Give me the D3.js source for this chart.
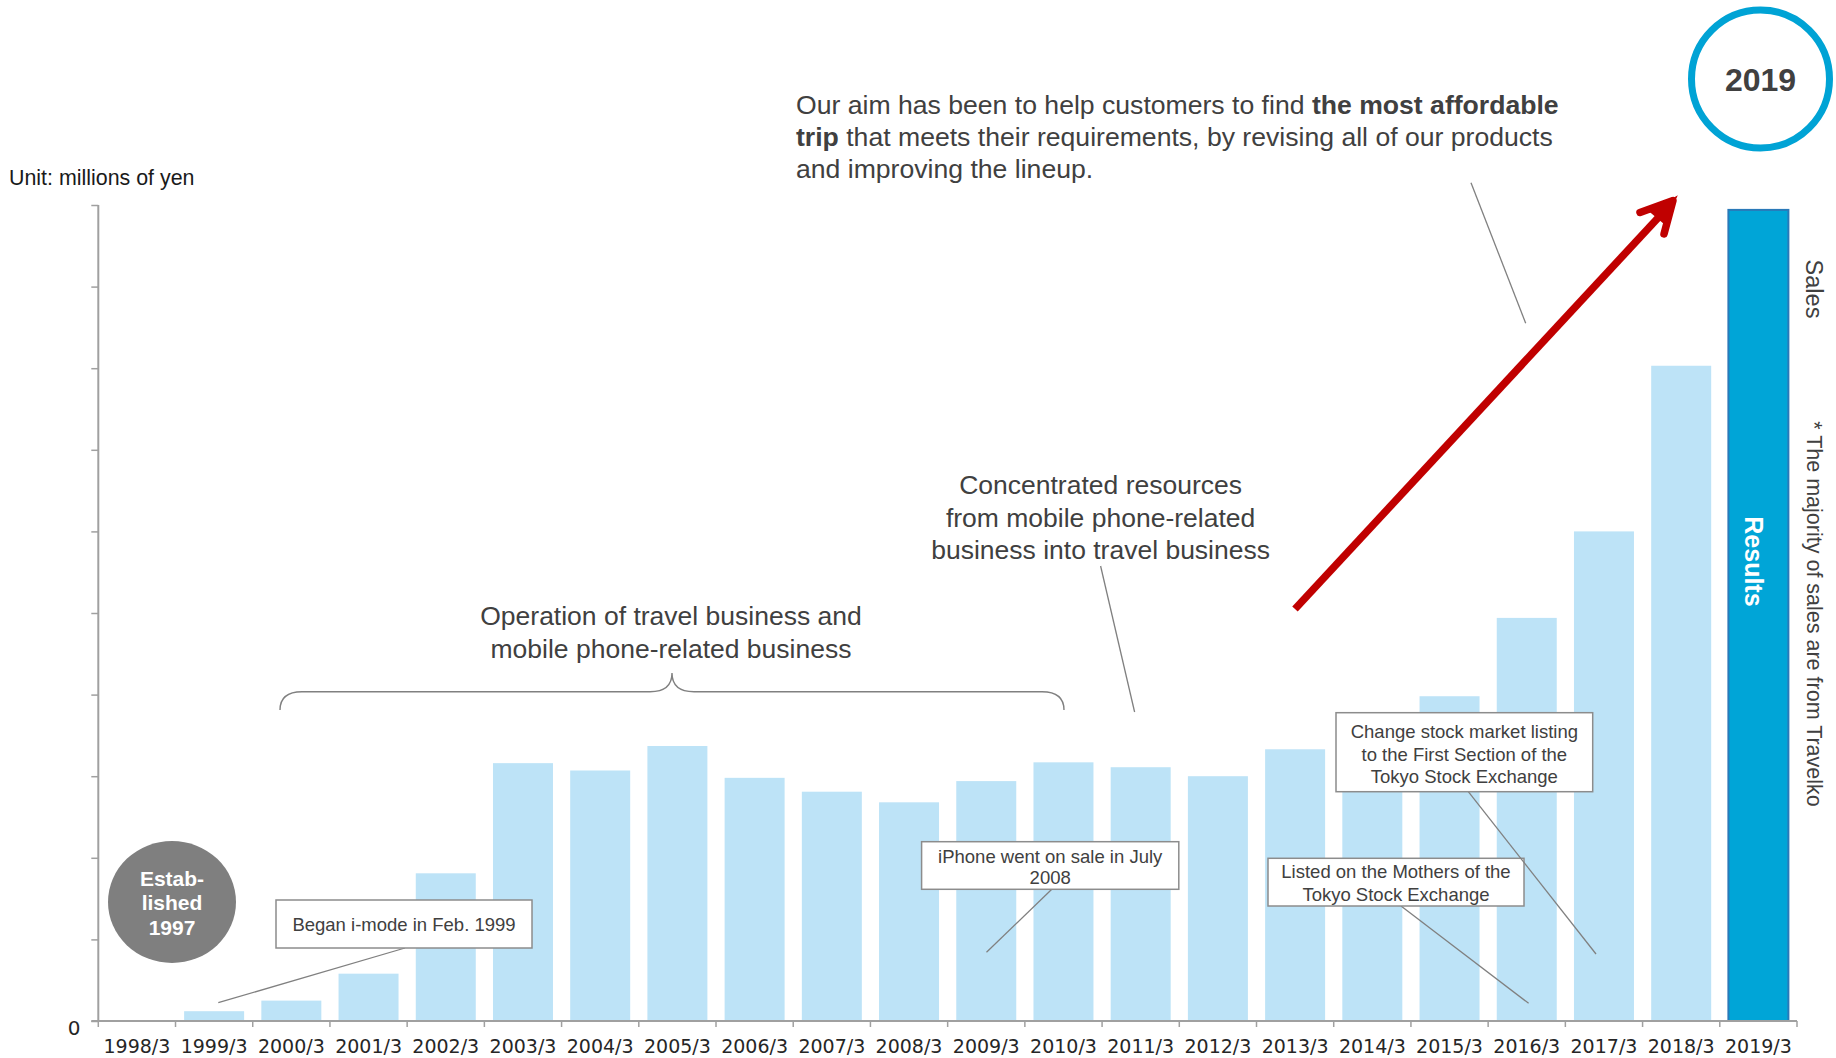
<!DOCTYPE html>
<html>
<head>
<meta charset="utf-8">
<script src="https://cdn.jsdelivr.net/npm/d3@7"></script>
<style>
  html, body { margin: 0; padding: 0; background: #ffffff; }
  svg { display: block; font-family: "Liberation Sans", Arial, Helvetica, sans-serif; }
</style>
</head>
<body>
<svg id="chart" width="1836" height="1058"></svg>
<script>
// Fiscal years (year/month of fiscal year end)
const categories = ["1998/3", "1999/3", "2000/3", "2001/3", "2002/3", "2003/3", "2004/3", "2005/3",
  "2006/3", "2007/3", "2008/3", "2009/3", "2010/3", "2011/3", "2012/3", "2013/3", "2014/3",
  "2015/3", "2016/3", "2017/3", "2018/3", "2019/3"];

// Sales per fiscal year, in axis grid steps
const sales = [0, 0.12, 0.25, 0.58, 1.81, 3.16, 3.07, 3.37, 2.98, 2.81, 2.68, 2.94, 3.17, 3.11,
  3.00, 3.33, 3.60, 3.98, 4.94, 6.00, 8.03, 9.94];

// Year shown as the latest results
const resultsYear = "2019/3";

// Y-axis grid steps; only zero carries a label
const yTicks = [0, 1, 2, 3, 4, 5, 6, 7, 8, 9, 10];
const yTickLabels = ["0"];

const data = categories.map((c, i) => ({ cat: c, value: sales[i] }));

const svg = d3.select("#chart");
const ink = "#404040";
const axisGrey = "#a0a0a0";
const leaderGrey = "#808080";

const x = d3.scaleBand()
  .domain(categories)
  .range([98.3, 1797])
  .paddingInner(0.223)
  .paddingOuter(0.1115);

const y = d3.scaleLinear()
  .domain([0, 10])
  .range([1021, 205]);

const cx = c => x(c) + x.bandwidth() / 2;

// ---- bars ----
svg.append("g").selectAll("rect")
  .data(data.filter(d => d.value > 0))
  .join("rect")
  .attr("x", d => x(d.cat))
  .attr("y", d => y(d.value))
  .attr("width", x.bandwidth())
  .attr("height", d => y(0) - y(d.value))
  .attr("fill", d => d.cat === resultsYear ? "#00a5d7" : "#bde3f7")
  .attr("stroke", d => d.cat === resultsYear ? "#2a79b8" : "none")
  .attr("stroke-width", 2);

// "Results" label inside the latest bar
{
  const d = data.find(e => e.cat === resultsYear);
  svg.append("text")
    .attr("transform", `translate(${cx(d.cat) - 4},${(y(d.value) + y(0)) / 2 - 54}) rotate(90)`)
    .attr("text-anchor", "middle")
    .attr("dominant-baseline", "central")
    .attr("fill", "#ffffff")
    .attr("font-weight", "bold")
    .attr("font-size", 25)
    .text("Results");
}

// ---- y axis ----
const yAxis = d3.axisLeft(y)
  .tickValues(yTicks)
  .tickSize(7)
  .tickFormat("");
const gy = svg.append("g")
  .attr("transform", `translate(${x.range()[0]},0)`)
  .call(yAxis);
gy.select(".domain").attr("stroke", axisGrey).attr("stroke-width", 2).attr("d", `M0,${y(10)}V${y(0)}`);
gy.selectAll(".tick line").attr("stroke", axisGrey).attr("stroke-width", 1.5);

svg.append("text")
  .attr("x", 74)
  .attr("y", y(0) + 14)
  .attr("text-anchor", "middle")
  .attr("font-family", "'DejaVu Sans', Verdana, sans-serif")
  .attr("font-size", 20)
  .attr("fill", "#262626")
  .text(yTickLabels[0]);

// ---- x axis: baseline, boundary ticks, category labels ----
const gx = svg.append("g");
gx.append("line")
  .attr("x1", x.range()[0] - 7).attr("x2", x.range()[1])
  .attr("y1", y(0)).attr("y2", y(0))
  .attr("stroke", axisGrey).attr("stroke-width", 2);
const boundaries = d3.range(categories.length + 1).map(i => x.range()[0] + i * x.step());
gx.selectAll("line.tick")
  .data(boundaries)
  .join("line")
  .attr("class", "tick")
  .attr("x1", d => d).attr("x2", d => d)
  .attr("y1", y(0)).attr("y2", y(0) + 6)
  .attr("stroke", axisGrey).attr("stroke-width", 1.5);
gx.selectAll("text")
  .data(categories)
  .join("text")
  .attr("x", d => cx(d))
  .attr("y", 1053)
  .attr("text-anchor", "middle")
  .attr("font-family", "'DejaVu Sans', Verdana, sans-serif")
  .attr("font-size", 19)
  .attr("fill", "#262626")
  .text(d => d);

// ---- unit caption ----
svg.append("text")
  .attr("x", 9).attr("y", 185)
  .attr("font-size", 21.4)
  .attr("fill", "#1a1a1a")
  .text("Unit: millions of yen");

// ---- helpers ----
function leader(x1, y1, x2, y2) {
  svg.append("line")
    .attr("x1", x1).attr("y1", y1).attr("x2", x2).attr("y2", y2)
    .attr("stroke", leaderGrey).attr("stroke-width", 1.3);
}

function callout(box, lines, baselines) {
  const g = svg.append("g");
  g.append("rect")
    .attr("x", box[0]).attr("y", box[1])
    .attr("width", box[2] - box[0]).attr("height", box[3] - box[1])
    .attr("fill", "#ffffff")
    .attr("stroke", "#8c8c8c").attr("stroke-width", 1.5);
  const midX = (box[0] + box[2]) / 2;
  lines.forEach((t, i) => {
    g.append("text")
      .attr("x", midX).attr("y", baselines[i])
      .attr("text-anchor", "middle")
      .attr("font-size", 18.5)
      .attr("fill", ink)
      .text(t);
  });
}

function textBlock(cxPos, lines, baselines, size) {
  lines.forEach((t, i) => {
    svg.append("text")
      .attr("x", cxPos).attr("y", baselines[i])
      .attr("text-anchor", "middle")
      .attr("font-size", size)
      .attr("fill", ink)
      .text(t);
  });
}

// ---- "Established 1997" badge ----
svg.append("ellipse")
  .attr("cx", 172).attr("cy", 902)
  .attr("rx", 64).attr("ry", 61)
  .attr("fill", "#7f7f7f");
["Estab-", "lished", "1997"].forEach((t, i) => {
  svg.append("text")
    .attr("x", 172).attr("y", 885.5 + i * 24.5)
    .attr("text-anchor", "middle")
    .attr("font-size", 21)
    .attr("font-weight", "bold")
    .attr("fill", "#ffffff")
    .text(t);
});

// ---- brace over the dual-business period ----
{
  const x0 = 280, x1 = 1064, xm = 672, yEnd = 710, yLine = 691.7, yPeak = 673;
  const p = d3.path();
  p.moveTo(x0, yEnd);
  p.quadraticCurveTo(x0, yLine, x0 + 22, yLine);
  p.lineTo(xm - 22, yLine);
  p.quadraticCurveTo(xm, yLine, xm, yPeak);
  p.quadraticCurveTo(xm, yLine, xm + 22, yLine);
  p.lineTo(x1 - 22, yLine);
  p.quadraticCurveTo(x1, yLine, x1, yEnd);
  svg.append("path")
    .attr("d", p.toString())
    .attr("fill", "none")
    .attr("stroke", leaderGrey)
    .attr("stroke-width", 1.4);
}
textBlock(671, ["Operation of travel business and", "mobile phone-related business"], [625, 658], 26.5);

// ---- concentrated resources note ----
textBlock(1100.6, ["Concentrated resources", "from mobile phone-related", "business into travel business"], [494, 527, 559], 26.5);
leader(1100.6, 566, 1134.6, 712);

// ---- callouts ----
leader(405, 948, 218.3, 1002.7);
callout([276, 900, 532, 948], ["Began i-mode in Feb. 1999"], [930.5]);

leader(1051.8, 889.3, 986.5, 952.3);
callout([921.6, 841.7, 1178.8, 889.3], ["iPhone went on sale in July", "2008"], [862.5, 884]);

leader(1401, 906, 1528.6, 1003.3);
callout([1268, 858.3, 1524, 906], ["Listed on the Mothers of the", "Tokyo Stock Exchange"], [878, 900.5]);

leader(1468.3, 791.7, 1596, 954);
callout([1336, 712.7, 1592.7, 791.7], ["Change stock market listing", "to the First Section of the", "Tokyo Stock Exchange"], [738, 760.5, 782.5]);

// ---- mission statement ----
{
  const para = [
    [["Our aim has been to help customers to find ", false], ["the most affordable", true]],
    [["trip", true], [" that meets their requirements, by revising all of our products", false]],
    [["and improving the lineup.", false]]
  ];
  const baselines = [114, 146, 178];
  para.forEach((segs, i) => {
    const t = svg.append("text")
      .attr("x", 796).attr("y", baselines[i])
      .attr("font-size", 26.6)
      .attr("fill", ink)
      .attr("xml:space", "preserve")
      .style("white-space", "pre");
    segs.forEach(([s, b]) => {
      t.append("tspan").attr("font-weight", b ? "bold" : "normal").text(s);
    });
  });
  leader(1471, 182.7, 1525.7, 323.3);
}

// ---- growth arrow ----
{
  const g = svg.append("g")
    .attr("stroke", "#c00000")
    .attr("stroke-width", 7.5)
    .attr("fill", "none");
  g.append("line")
    .attr("x1", 1295).attr("y1", 609)
    .attr("x2", 1670).attr("y2", 205);
  g.append("path")
    .attr("d", "M1640,212.5 L1673,200.5 L1664,234")
    .attr("stroke-linecap", "round")
    .attr("stroke-linejoin", "round");
  g.append("path")
    .attr("d", "M1652,212 L1674.5,199 L1664,222 Z")
    .attr("fill", "#c00000")
    .attr("stroke-width", 3);
}

// ---- 2019 badge ----
svg.append("circle")
  .attr("cx", 1760.5).attr("cy", 79).attr("r", 69)
  .attr("fill", "none")
  .attr("stroke", "#00a3d5")
  .attr("stroke-width", 7);
svg.append("text")
  .attr("x", 1760.5).attr("y", 90.5)
  .attr("text-anchor", "middle")
  .attr("font-size", 32)
  .attr("font-weight", "bold")
  .attr("fill", ink)
  .text("2019");

// ---- side notes ----
svg.append("text")
  .attr("transform", "translate(1814,289) rotate(90)")
  .attr("text-anchor", "middle")
  .attr("dominant-baseline", "central")
  .attr("font-size", 23.5)
  .attr("fill", ink)
  .text("Sales");
svg.append("text")
  .attr("transform", "translate(1814,614) rotate(90)")
  .attr("text-anchor", "middle")
  .attr("dominant-baseline", "central")
  .attr("font-size", 21.5)
  .attr("fill", ink)
  .text("* The majority of sales are from Travelko");
</script>
</body>
</html>
